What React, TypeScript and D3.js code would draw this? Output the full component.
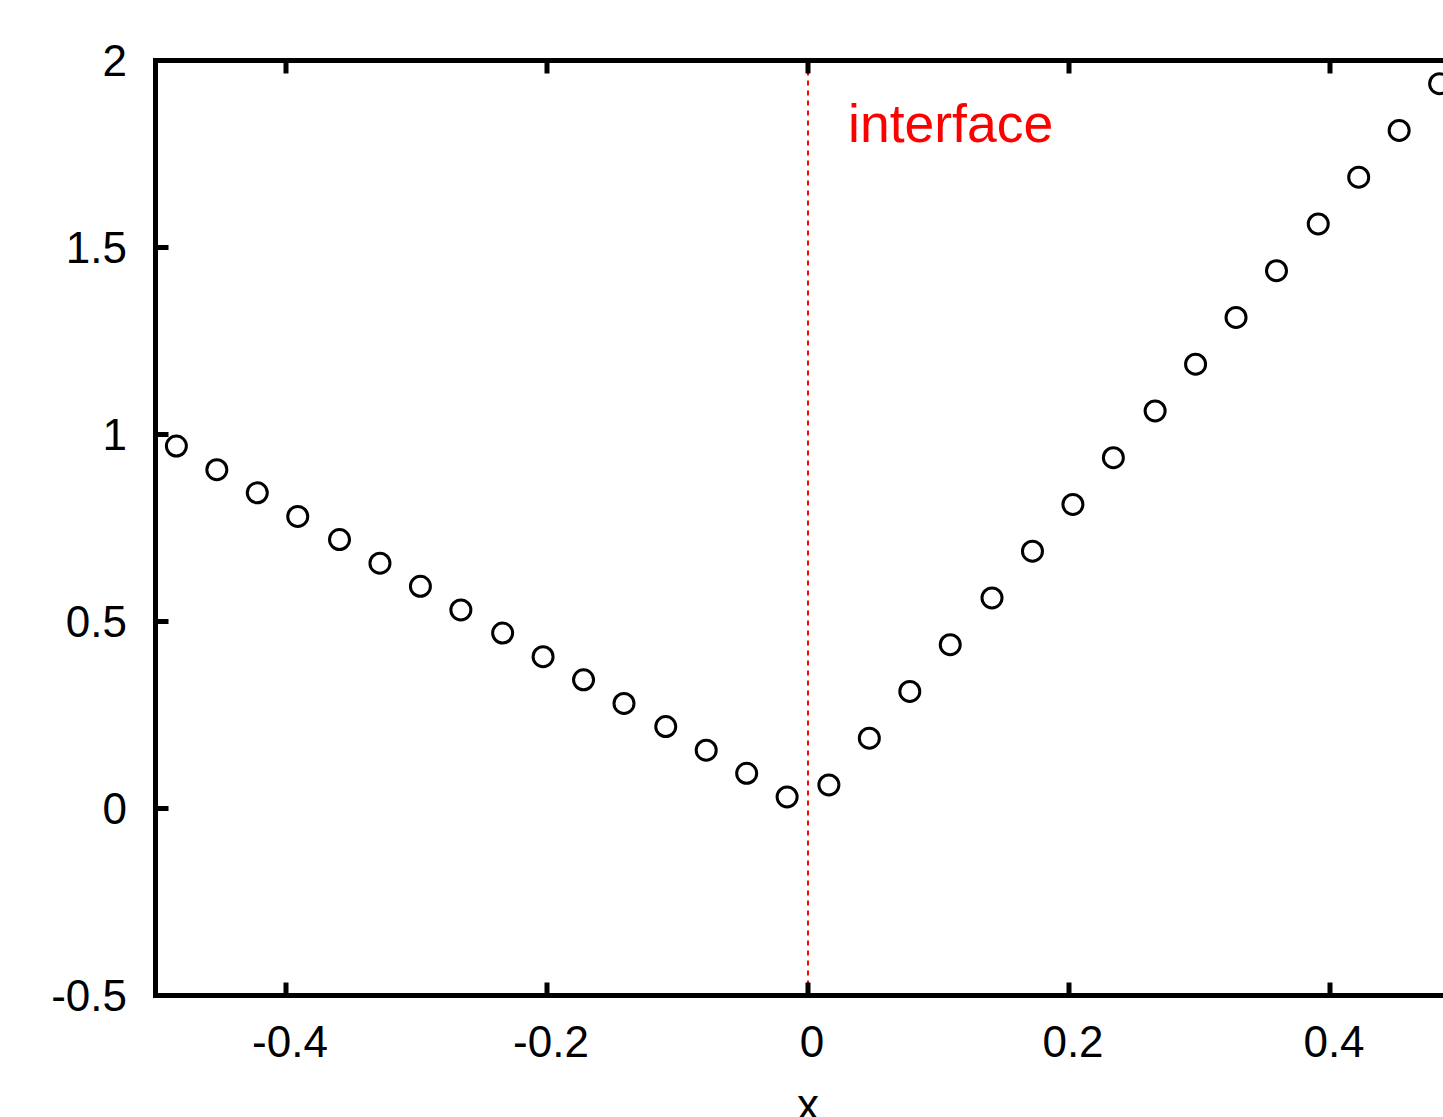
import React from "react";
import * as d3 from "d3";

const xValues = [
  -0.484, -0.453, -0.422, -0.391, -0.359, -0.328, -0.297, -0.266,
  -0.234, -0.203, -0.172, -0.141, -0.109, -0.078, -0.047, -0.016,
  0.016, 0.047, 0.078, 0.109, 0.141, 0.172, 0.203, 0.234,
  0.266, 0.297, 0.328, 0.359, 0.391, 0.422, 0.453, 0.484,
];
const yValues = [
  0.969, 0.906, 0.844, 0.781, 0.719, 0.656, 0.594, 0.531,
  0.469, 0.406, 0.344, 0.281, 0.219, 0.156, 0.094, 0.031,
  0.063, 0.188, 0.313, 0.438, 0.563, 0.688, 0.813, 0.938,
  1.063, 1.188, 1.313, 1.438, 1.563, 1.688, 1.813, 1.938,
];
const xTicks = [-0.4, -0.2, 0, 0.2, 0.4];
const yTicks = [-0.5, 0, 0.5, 1, 1.5, 2];
const xDomain: [number, number] = [-0.5, 0.5];
const yDomain: [number, number] = [-0.5, 2];
const interfaceX = 0;
const interfaceLabel = "interface";
const xLabel = "x";

const W = 1443;
const H = 1117;
const FONT = "'Liberation Sans', Arial, Helvetica, sans-serif";

export default function App() {
  const x = d3.scaleLinear().domain(xDomain).range([155.5, 1460.5]);
  const y = d3.scaleLinear().domain(yDomain).range([995.5, 60.5]);
  const fmt = (v: number) => (v === 0 ? "0" : String(v));
  const tickLen = 13;
  return (
    <div style={{ position: "absolute", left: 0, top: 0 }}>
      <svg width={W} height={H} style={{ display: "block", background: "#fff" }}>
        {/* interface line */}
        <line
          x1={x(interfaceX)}
          x2={x(interfaceX)}
          y1={y(yDomain[1])}
          y2={y(yDomain[0])}
          stroke="#ff0000"
          strokeWidth={2}
          strokeDasharray="5,5"
        />
        <text x={848} y={142} fontFamily={FONT} fontSize={53.5} fill="#ff0000">
          {interfaceLabel}
        </text>
        {/* points */}
        {xValues.map((xv, i) => (
          <circle
            key={i}
            cx={x(xv)}
            cy={y(yValues[i])}
            r={10}
            fill="none"
            stroke="#000"
            strokeWidth={3}
          />
        ))}
        {/* ticks */}
        {xTicks.map((t) => (
          <g key={"xt" + t}>
            <line x1={x(t)} x2={x(t)} y1={y(yDomain[0])} y2={y(yDomain[0]) - tickLen} stroke="#000" strokeWidth={5} />
            <line x1={x(t)} x2={x(t)} y1={y(yDomain[1])} y2={y(yDomain[1]) + tickLen} stroke="#000" strokeWidth={5} />
            <text
              x={x(t) + 4}
              y={1057}
              fontFamily={FONT}
              fontSize={44}
              textAnchor="middle"
              fill="#000"
            >
              {fmt(t)}
            </text>
          </g>
        ))}
        {yTicks.map((t) => (
          <g key={"yt" + t}>
            <line x1={x(xDomain[0])} x2={x(xDomain[0]) + tickLen} y1={y(t)} y2={y(t)} stroke="#000" strokeWidth={5} />
            <line x1={x(xDomain[1])} x2={x(xDomain[1]) - tickLen} y1={y(t)} y2={y(t)} stroke="#000" strokeWidth={5} />
            <text
              x={127}
              y={y(t) + 15}
              fontFamily={FONT}
              fontSize={44}
              textAnchor="end"
              fill="#000"
            >
              {fmt(t)}
            </text>
          </g>
        ))}
        {/* frame */}
        <rect
          x={x(xDomain[0])}
          y={y(yDomain[1])}
          width={x(xDomain[1]) - x(xDomain[0])}
          height={y(yDomain[0]) - y(yDomain[1])}
          fill="none"
          stroke="#000"
          strokeWidth={5}
        />
        <text x={x(0)} y={1120} fontFamily={FONT} fontSize={44} textAnchor="middle" fill="#000">
          {xLabel}
        </text>
      </svg>
    </div>
  );
}
